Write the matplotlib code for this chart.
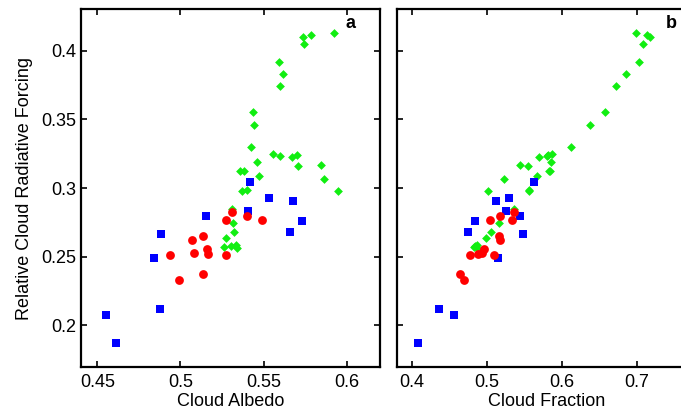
import numpy as np
import matplotlib
matplotlib.use('Agg')
import matplotlib.pyplot as plt

# 数据：green = 菱形, blue = 方块, red = 圆点
green_forcing = [0.4127, 0.4116, 0.4098, 0.4048, 0.3916, 0.3831, 0.3742, 0.3552,
                 0.3456, 0.3302, 0.3249, 0.3235, 0.3225, 0.3237, 0.3189, 0.3160,
                 0.3170, 0.3121, 0.3121, 0.3090, 0.3066, 0.2977, 0.2975, 0.2986,
                 0.2845, 0.2748, 0.2683, 0.2635, 0.2568, 0.2585, 0.2563, 0.2580]
green_albedo = [0.5926, 0.5788, 0.5736, 0.5740, 0.5590, 0.5615, 0.5597, 0.5435,
                0.5445, 0.5427, 0.5554, 0.5597, 0.5672, 0.5698, 0.5462, 0.5704,
                0.5844, 0.5361, 0.5383, 0.5471, 0.5864, 0.5948, 0.5369, 0.5403,
                0.5311, 0.5315, 0.5321, 0.5275, 0.5261, 0.5335, 0.5341, 0.5301]
green_fraction = [0.6987, 0.7143, 0.7177, 0.7084, 0.7031, 0.6853, 0.6724, 0.6573,
                  0.6382, 0.6120, 0.5867, 0.5800, 0.5703, 0.5820, 0.5857, 0.5556,
                  0.5444, 0.5831, 0.5845, 0.5671, 0.5236, 0.5013, 0.5564, 0.5570,
                  0.5364, 0.5164, 0.5053, 0.4987, 0.4831, 0.4876, 0.4867, 0.4850]

blue_forcing = [0.3044, 0.2929, 0.2905, 0.2832, 0.2796, 0.2760, 0.2681, 0.2664,
                0.2488, 0.2120, 0.2074, 0.1874]
blue_albedo = [0.5419, 0.5535, 0.5676, 0.5405, 0.5153, 0.5732, 0.5657, 0.4885,
               0.4840, 0.4876, 0.4550, 0.4614]
blue_fraction = [0.5631, 0.5298, 0.5129, 0.5253, 0.5444, 0.4840, 0.4747, 0.5484,
                 0.5151, 0.4364, 0.4569, 0.4084]

red_forcing = [0.2827, 0.2794, 0.2770, 0.2765, 0.2650, 0.2621, 0.2556, 0.2529,
               0.2517, 0.2510, 0.2510, 0.2375, 0.2332]
red_albedo = [0.5307, 0.5403, 0.5489, 0.5275, 0.5137, 0.5071, 0.5157, 0.5079,
              0.5165, 0.4939, 0.5271, 0.5135, 0.4989]
red_fraction = [0.5364, 0.5178, 0.5333, 0.5050, 0.5164, 0.5178, 0.4964, 0.4933,
                0.4889, 0.4773, 0.5097, 0.4640, 0.4693]

plt.rcParams['font.family'] = ['Liberation Sans', 'DejaVu Sans']
plt.rcParams['font.size'] = 13

fig = plt.figure(figsize=(6.81, 4.09), dpi=100)
ax1 = fig.add_axes([0.1185, 0.1034, 0.4395, 0.8738])
ax2 = fig.add_axes([0.5825, 0.1034, 0.4405, 0.8738])


def draw(ax, gx, bx, rx):
    ax.scatter(gx, green_forcing, marker='D', s=20, color='#11ee11', linewidths=0, zorder=3)
    ax.scatter(bx, blue_forcing, marker='s', s=36, color='#0000ff', linewidths=0, zorder=3)
    ax.scatter(rx, red_forcing, marker='o', s=40, color='#ff0000', linewidths=0, zorder=3)
    ax.set_ylim(0.17, 0.43)
    ax.set_yticks([0.2, 0.25, 0.3, 0.35, 0.4])
    ax.tick_params(direction='in', top=True, right=True, length=4, width=1.2)
    ax.tick_params(axis='x', pad=5)
    for s in ax.spines.values():
        s.set_linewidth(1.6)


draw(ax1, green_albedo, blue_albedo, red_albedo)
ax1.set_xlim(0.44, 0.62)
ax1.set_xticks([0.45, 0.5, 0.55, 0.6])
ax1.set_yticklabels(['0.2', '0.25', '0.3', '0.35', '0.4'])
ax1.set_xticklabels(['0.45', '0.5', '0.55', '0.6'])
ax1.set_xlabel('Cloud Albedo', labelpad=2)
ax1.set_ylabel('Relative Cloud Radiative Forcing', labelpad=6)
ax1.text(0.902, 0.959, 'a', transform=ax1.transAxes, fontweight='bold', ha='center', va='center')

draw(ax2, green_fraction, blue_fraction, red_fraction)
ax2.set_xlim(0.38, 0.78)
ax2.set_xticks([0.4, 0.5, 0.6, 0.7])
ax2.set_xticklabels(['0.4', '0.5', '0.6', '0.7'])
ax2.set_yticklabels([])
ax2.set_xlabel('Cloud Fraction', labelpad=2)
ax2.text(0.917, 0.961, 'b', transform=ax2.transAxes, fontweight='bold', ha='center', va='center')

fig.savefig('out.png', dpi=100)
